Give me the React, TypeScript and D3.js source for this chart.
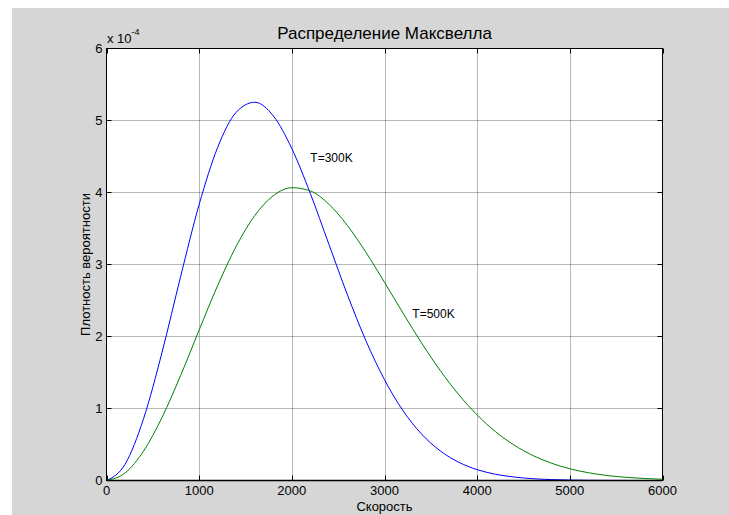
import React from "react";
import * as d3 from "d3";

// Speed grid, m/s
const speeds = [
  0, 200, 400, 600, 800, 1000, 1200, 1400, 1600, 1800, 2000, 2200, 2400, 2600, 2800, 3000,
  3200, 3400, 3600, 3800, 4000, 4200, 4400, 4600, 4800, 5000, 5200, 5400, 5600, 5800, 6000,
];

// Probability density, units of 1e-4
const density300K = [
  0, 0.225, 0.859, 1.783, 2.834, 3.834, 4.628, 5.115, 5.253, 5.064, 4.61, 3.985, 3.281, 2.579,
  1.94, 1.4, 0.969, 0.645, 0.413, 0.254, 0.151, 0.086, 0.048, 0.025, 0.013, 0.006, 0.003, 0.0014,
  0.0006, 0.0003, 0.0001,
];
const density500K = [
  0, 0.105, 0.409, 0.878, 1.459, 2.091, 2.709, 3.254, 3.68, 3.955, 4.067, 4.022, 3.837, 3.541,
  3.168, 2.752, 2.324, 1.91, 1.53, 1.194, 0.91, 0.676, 0.491, 0.348, 0.241, 0.163, 0.108, 0.07,
  0.045, 0.028, 0.017,
];

const xTicks = [0, 1000, 2000, 3000, 4000, 5000, 6000];
const yTicks = [0, 1, 2, 3, 4, 5, 6];

const W = 729;
const H = 515;
const left = 106.5;
const right = 662.5;
const top = 48.5;
const bottom = 480.5;
const FONT = "'Liberation Sans', Arial, Helvetica, sans-serif";

export default function App() {
  const x = d3.scaleLinear().domain([0, 6000]).range([left, right]);
  const y = d3.scaleLinear().domain([0, 6]).range([bottom, top]);

  const line = d3
    .line<number>()
    .x((_, i) => x(speeds[i]))
    .y((d) => y(d))
    .curve(d3.curveMonotoneX);

  const tickLen = 5;

  return (
    <svg
      width={W}
      height={H}
      style={{ position: "absolute", left: 0, top: 0, display: "block" }}
      fontFamily={FONT}
    >
      <rect x={0} y={0} width={W} height={H} fill="#ffffff" />
      <rect x={12} y={8} width={W - 12} height={H - 8} fill="#d6d6d6" />
      <rect x={left} y={top} width={right - left} height={bottom - top} fill="#ffffff" />

      {/* grid */}
      {xTicks.slice(1, -1).map((t) => (
        <line
          key={"gx" + t}
          x1={Math.round(x(t)) + 0.5}
          x2={Math.round(x(t)) + 0.5}
          y1={top}
          y2={bottom}
          stroke="#333"
          strokeWidth={1}
          strokeDasharray="1,1"
          opacity={0.7}
        />
      ))}
      {yTicks.slice(1, -1).map((t) => (
        <line
          key={"gy" + t}
          x1={left}
          x2={right}
          y1={y(t)}
          y2={y(t)}
          stroke="#333"
          strokeWidth={1}
          strokeDasharray="1,1"
          opacity={0.7}
        />
      ))}

      {/* ticks on all four sides, pointing inward */}
      {xTicks.map((t) => (
        <g key={"tx" + t}>
          <line x1={Math.round(x(t)) + 0.5} x2={Math.round(x(t)) + 0.5} y1={bottom} y2={bottom - tickLen} stroke="#000" />
          <line x1={Math.round(x(t)) + 0.5} x2={Math.round(x(t)) + 0.5} y1={top} y2={top + tickLen} stroke="#000" />
          <text x={x(t)} y={495} fontSize={13} textAnchor="middle" fill="#000">
            {t}
          </text>
        </g>
      ))}
      {yTicks.map((t) => (
        <g key={"ty" + t}>
          <line x1={left} x2={left + tickLen} y1={y(t)} y2={y(t)} stroke="#000" />
          <line x1={right} x2={right - tickLen} y1={y(t)} y2={y(t)} stroke="#000" />
          <text x={left - 4} y={y(t)} dy="0.36em" fontSize={13} textAnchor="end" fill="#000">
            {t}
          </text>
        </g>
      ))}

      {/* curves */}
      <path d={line(density300K) || ""} fill="none" stroke="#0000ff" strokeWidth={1} />
      <path d={line(density500K) || ""} fill="none" stroke="#008000" strokeWidth={1} />

      {/* axes box */}
      <rect x={left} y={top} width={right - left} height={bottom - top} fill="none" stroke="#000" strokeWidth={1} />
      <line x1={left} x2={right} y1={bottom} y2={bottom} stroke="#000" strokeWidth={1.6} />

      {/* exponent marker */}
      <text x={107} y={43} fontSize={13} fill="#000">
        x 10
        <tspan dy={-8} fontSize={9}>
          -4
        </tspan>
      </text>

      {/* curve annotations */}
      <text x={x(2200)} y={162} fontSize={12} fill="#000">
        T=300K
      </text>
      <text x={x(3300)} y={318} fontSize={12} fill="#000">
        T=500K
      </text>

      <text x={(left + right) / 2} y={39} fontSize={17} textAnchor="middle" fill="#000">
        Распределение Максвелла
      </text>
      <text x={(left + right) / 2} y={511} fontSize={13} textAnchor="middle" fill="#000">
        Скорость
      </text>
      <text
        transform={`translate(90, ${(top + bottom) / 2}) rotate(-90)`}
        fontSize={13}
        textAnchor="middle"
        fill="#000"
      >
        Плотность вероятности
      </text>
    </svg>
  );
}
